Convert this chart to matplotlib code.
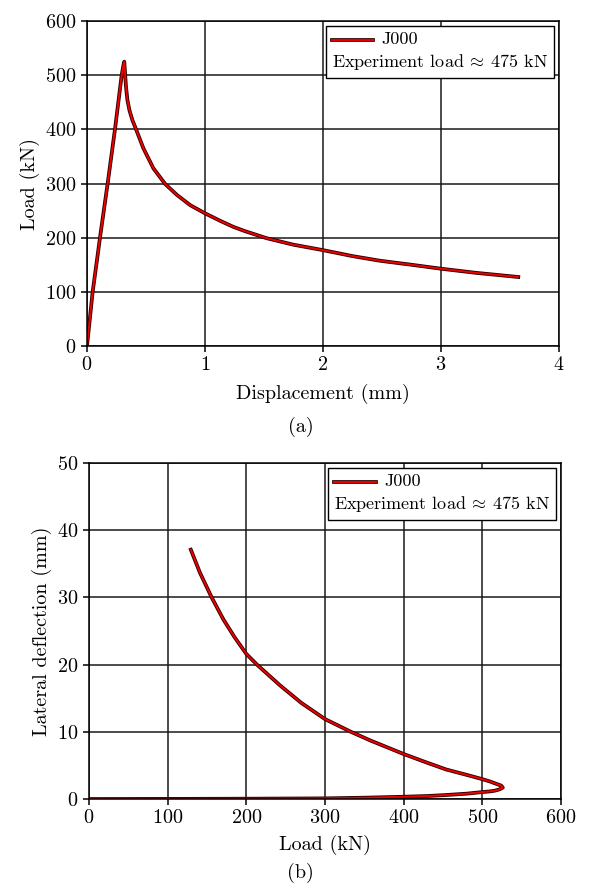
import matplotlib
matplotlib.use("Agg")
import matplotlib.pyplot as plt
import matplotlib.patheffects as pe
from matplotlib.lines import Line2D
from matplotlib.offsetbox import (AnchoredOffsetbox, DrawingArea, HPacker,
                                  TextArea, VPacker)

plt.rcParams['font.family'] = 'cmr10'
plt.rcParams['mathtext.fontset'] = 'cm'
plt.rcParams['axes.formatter.use_mathtext'] = True
plt.rcParams['font.size'] = 14.5

# (a) load vs displacement
disp = [0, 0.048, 0.096, 0.11, 0.175, 0.237, 0.294, 0.31, 0.316, 0.322, 0.33,
        0.342, 0.36, 0.385, 0.416, 0.478, 0.563, 0.663, 0.762, 0.875, 1.0,
        1.13, 1.24, 1.339, 1.523, 1.75, 2.0, 2.25, 2.48, 2.75, 3.0, 3.3, 3.655]
load_a = [0, 100, 177, 200, 300, 400, 500, 520, 525, 505, 480,
          455, 435, 417, 400, 365, 328, 299, 279, 260, 245,
          231, 220, 212, 199, 187, 177, 166, 157.5, 150, 142.7, 135, 127.4]

# (b) lateral deflection vs load
load_b = [0, 100, 200, 300, 350, 400, 430, 454, 480, 500, 510, 516, 522, 526,
          524, 518, 510, 500, 480, 454, 430, 400, 358, 333, 300,
          270, 243, 213.6, 200, 185, 171, 156, 141, 129.5]
defl = [0, 0.02, 0.05, 0.1, 0.2, 0.34, 0.45, 0.6, 0.8, 1.04, 1.14, 1.25, 1.45, 1.7,
        2.0, 2.25, 2.6, 2.96, 3.6, 4.4, 5.4, 6.7, 8.7, 10.0, 11.9,
        14.3, 16.9, 20, 21.6, 24.1, 26.7, 30, 33.7, 37.1]

series_label = 'J000'
note = r'Experiment load$\:\approx\:$475 kN'

red = '#ee0000'
edge = pe.Stroke(linewidth=2.7, foreground='#2a0000')


def add_legend(ax):
    da = DrawingArea(30, 10, 0, 0)
    ln = Line2D([0, 30], [5, 5], color=red, lw=1.4)
    ln.set_path_effects([edge, pe.Normal()])
    da.add_artist(ln)
    props = dict(fontsize=13)
    row1 = HPacker(children=[da, TextArea(series_label, textprops=props)],
                   align='center', pad=0, sep=6)
    box = VPacker(children=[row1, TextArea(note, textprops=props)],
                  align='left', pad=0, sep=3)
    ab = AnchoredOffsetbox(loc='upper right', child=box, pad=0.3, borderpad=0.25, frameon=True)
    ab.patch.set_edgecolor('black')
    ab.patch.set_linewidth(1.0)
    ab.patch.set_boxstyle('square', pad=0)
    ax.add_artist(ab)


def style(ax):
    ax.grid(True, color='#1a1a1a', lw=1.1)
    ax.set_axisbelow(True)
    for s in ax.spines.values():
        s.set_linewidth(1.1)
    ax.tick_params(direction='out', length=4, width=1.1)


fig = plt.figure(figsize=(5.89, 8.84), dpi=100)

ax1 = fig.add_axes([0.1477, 0.6086, 0.8013, 0.3676])
ax1.plot(disp, load_a, color=red, lw=1.4, solid_joinstyle='round',
         path_effects=[edge, pe.Normal()])
ax1.set_xlim(0, 4)
ax1.set_ylim(0, 600)
ax1.set_xticks([0, 1, 2, 3, 4])
ax1.set_yticks(range(0, 601, 100))
ax1.set_xlabel('Displacement (mm)', labelpad=7)
ax1.set_ylabel('Load (kN)')
style(ax1)
add_legend(ax1)
fig.text(0.51, 0.517, '(a)', ha='center', va='center')

ax2 = fig.add_axes([0.151, 0.0961, 0.8015, 0.3801])
ax2.plot(load_b, defl, color=red, lw=1.4, solid_joinstyle='round',
         path_effects=[edge, pe.Normal()])
ax2.set_xlim(0, 600)
ax2.set_ylim(0, 50)
ax2.set_xticks(range(0, 601, 100))
ax2.set_yticks(range(0, 51, 10))
ax2.set_xlabel('Load (kN)', labelpad=5)
ax2.set_ylabel('Lateral deflection (mm)')
style(ax2)
add_legend(ax2)
fig.text(0.51, 0.0124, '(b)', ha='center', va='center')

fig.savefig('out.png', dpi=100)
